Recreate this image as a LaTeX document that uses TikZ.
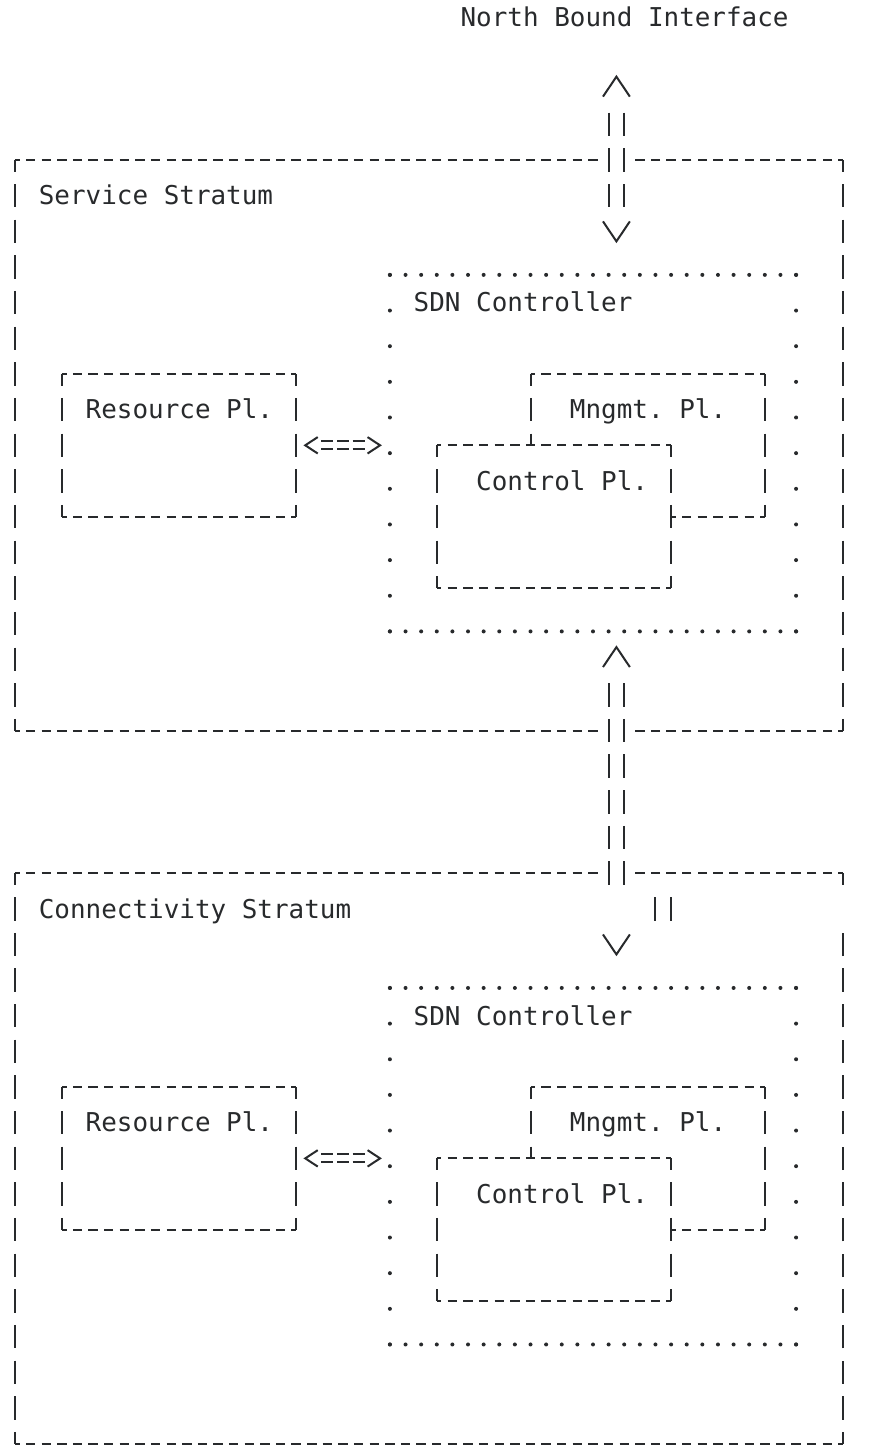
\documentclass[tikz,border=0pt]{standalone}
\usepackage{fontspec}
\setmonofont{DejaVu Sans Mono}
\usepackage{tikz}
\usetikzlibrary{fit,calc}
\definecolor{ink}{RGB}{40,42,44}
\newcommand{\asciifont}{\ttfamily\fontsize{12.97pt}{15.6pt}\selectfont}

\begin{document}
\begin{tikzpicture}[x=7.81pt, y=-17.825pt,
	glyph/.style={draw=ink, line width=1pt},
	hrule/.style={glyph, dash pattern=on 4.7pt off 3.11pt, dash phase=2.35pt},
	vrule/.style={glyph, dash pattern=on 11.7pt off 6.125pt, dash phase=5.85pt},
	vrail/.style={glyph, dash pattern=on 11.7pt off 6.125pt, dash phase=14.76pt},
	eqrail/.style={glyph, dash pattern=on 6pt off 1.81pt, dash phase=6.905pt},
	hdots/.style={draw=ink, line width=2pt, line cap=round, dash pattern=on 0pt off 7.81pt},
	vdots/.style={draw=ink, line width=2pt, line cap=round, dash pattern=on 0pt off 17.825pt},
	txt/.style={font=\asciifont, text=ink, inner sep=0pt, anchor=base west},
	area/.style={rectangle, inner sep=0pt, outer sep=0pt},
	plane/.style={area, append after command={
		(\tikzlastnode.north west) edge[hrule] (\tikzlastnode.north east)
		(\tikzlastnode.south west) edge[hrule] (\tikzlastnode.south east)
		(\tikzlastnode.north west) edge[vrule] (\tikzlastnode.south west)
		(\tikzlastnode.north east) edge[vrule] (\tikzlastnode.south east)}},
	ctrl/.style={area, append after command={
		(\tikzlastnode.north west) edge[hdots] (\tikzlastnode.north east)
		(\tikzlastnode.south east) edge[hdots] (\tikzlastnode.south west)
		(\tikzlastnode.north west) edge[vdots] (\tikzlastnode.south west)
		(\tikzlastnode.north east) edge[vdots] (\tikzlastnode.south east)}},
	uchev/.pic={\draw[glyph] (-0.86,0.56) -- (0,0) -- (0.86,0.56);},
	dchev/.pic={\draw[glyph] (-0.86,-0.56) -- (0,0) -- (0.86,-0.56);},
	lchev/.pic={\draw[glyph] (0.8,-0.23) -- (0,0) -- (0.8,0.23);},
	rchev/.pic={\draw[glyph] (-0.8,-0.23) -- (0,0) -- (-0.8,0.23);}]

    \useasboundingbox (-0.96,-0.49) rectangle (55.76,40.18);

    \node[txt] (nbi) at (28.5,0.26) {North Bound Interface};
    \coordinate (nbi-tip) at (38.5,1.66);

    % the two strata
    \node[area, fit={(0,4) (53,20)}] (svc) {};
    \node[txt] (svc-lbl) at (1.5,5.26) {Service Stratum};
    \node[area, fit={(0,24) (53,40)}] (con) {};
    \node[txt] (con-lbl) at (1.5,25.26) {Connectivity Stratum};

    \draw[hrule] (svc.north west) -- ($(svc.north west)+(37.5,0)$);
    \draw[hrule] (svc.north east) -- ($(svc.north east)+(-13.5,0)$);
    \draw[hrule] (svc.south west) -- ($(svc.south west)+(37.5,0)$);
    \draw[hrule] (svc.south east) -- ($(svc.south east)+(-13.5,0)$);
    \draw[vrule] (svc.north west) -- (svc.south west);
    \draw[vrule] (svc.north east) -- (svc.south east);

    \draw[hrule] (con.north west) -- ($(con.north west)+(37.5,0)$);
    \draw[hrule] (con.north east) -- ($(con.north east)+(-13.5,0)$);
    \draw[hrule] (con.south west) -- (con.south east);
    \draw[vrule] (con.north west) -- (con.south west);
    \draw[vrule] (con.north east) -- ($(con.north east)+(0,0.5)$);
    \draw[vrule] (con.south east) -- ($(con.north east)+(0,1.5)$);

    % one SDN controller per stratum
    \foreach \s/\dy in {1/0,2/20}{
        \node[ctrl, fit={(24,7.22+\dy) (50,17.22+\dy)}] (sdn\s) {};
        \node[txt] (sdn\s-lbl) at (25.5,8.26+\dy) {SDN Controller};
        \node[plane, fit={(3,10+\dy) (18,14+\dy)}] (res\s) {};
        \node[txt] (res\s-lbl) at (4.5,11.26+\dy) {Resource Pl.};
        \node[plane, fit={(33,10+\dy) (48,14+\dy)}] (mgt\s) {};
        \node[txt] (mgt\s-lbl) at (35.5,11.26+\dy) {Mngmt. Pl.};
        \node[plane, fill=white, fit={(27,12+\dy) (42,16+\dy)}] (ctl\s) {};
        \node[txt] (ctl\s-lbl) at (29.5,13.26+\dy) {Control Pl.};

        \draw[eqrail] ($(res\s.east)+(1.5,-0.112)$) -- ($(res\s.east -| sdn\s.west)+(-1.5,-0.112)$)
                      ($(res\s.east)+(1.5,0.112)$) -- ($(res\s.east -| sdn\s.west)+(-1.5,0.112)$);
        \pic at ($(res\s.east)+(0.58,0)$) {lchev};
        \pic at ($(res\s.east -| sdn\s.west)+(-0.63,0)$) {rchev};
    }

    % north bound interface <=> upper controller
    \pic at (nbi-tip) {uchev};
    \draw[vrail] ($(nbi-tip)+(-0.5,0.84)$) -- ($(sdn1.north -| nbi-tip)+(-0.5,-1.72)$)
                 ($(nbi-tip)+(0.5,0.84)$) -- ($(sdn1.north -| nbi-tip)+(0.5,-1.72)$);
    \pic at ($(sdn1.north -| nbi-tip)+(0,-0.94)$) {dchev};

    % upper controller <=> lower controller
    \pic at ($(sdn1.south -| nbi-tip)+(0,0.44)$) {uchev};
    \draw[vrail] ($(sdn1.south -| nbi-tip)+(-0.5,1.28)$) -- ($(sdn1.south -| nbi-tip)+(-0.5,7.28)$)
                 ($(sdn1.south -| nbi-tip)+(0.5,1.28)$) -- ($(sdn1.south -| nbi-tip)+(0.5,7.28)$);
    \draw[vrail] ($(sdn2.north -| nbi-tip)+(2.5,-2.72)$) -- ($(sdn2.north -| nbi-tip)+(2.5,-1.72)$)
                 ($(sdn2.north -| nbi-tip)+(3.5,-2.72)$) -- ($(sdn2.north -| nbi-tip)+(3.5,-1.72)$);
    \pic at ($(sdn2.north -| nbi-tip)+(0,-0.94)$) {dchev};
\end{tikzpicture}
\end{document}
